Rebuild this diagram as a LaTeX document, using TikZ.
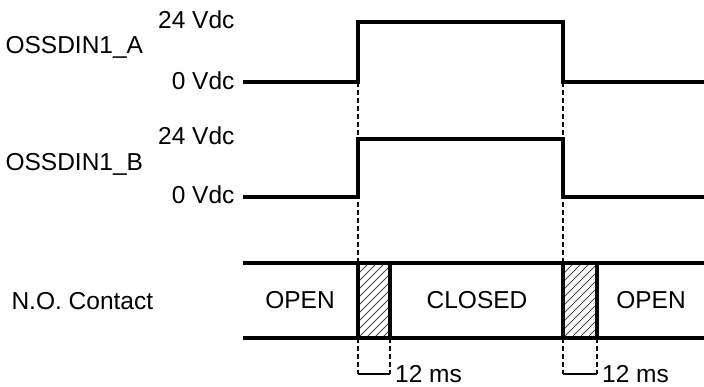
\documentclass[tikz,border=0pt]{standalone}
\usepackage{fontspec}
\setmainfont{Liberation Sans}
\usepackage{tikz}
\usetikzlibrary{calc,positioning}

\begin{document}
\begin{tikzpicture}[x = {(1pt,0pt)},
                    y = {(0pt,-1pt)},
                    color = {black},
                    font = \fontsize{24.5}{28}\selectfont]
% styles
\tikzset{sigline/.style={draw=black,line width=4pt,line join=miter},
         guide/.style={draw=black,dashed,line width=1.2pt,dash pattern=on 5pt off 3pt},
         hatchline/.style={draw=black!70,line width=0.8pt}}
\useasboundingbox (0,0) rectangle (704,386);
% coordinates
%edges
\coordinate (T1) at (358,0);
\coordinate (T2) at (390,0);
\coordinate (T3) at (563,0);
\coordinate (T4) at (597,0);
%levels
\coordinate (AH) at (0,22);
\coordinate (AL) at (0,82);
\coordinate (BH) at (0,139);
\coordinate (BL) at (0,197);
\coordinate (CT) at (0,263);
\coordinate (CB) at (0,338);
\coordinate (DM) at (0,374);

%labels
\node[anchor=west] (nameA) at (2,47) {OSSDIN1\_A};
\node[anchor=west] (nameB) at (2,164) {OSSDIN1\_B};
\node[anchor=west] (nameC) at (8,301) {N.O. Contact};
\node[anchor=east] (highA) at (238,20) {24 Vdc};
\node[anchor=east] (lowA) at (238,81) {0 Vdc};
\node[anchor=east] (highB) at (238,136) {24 Vdc};
\node[anchor=east] (lowB) at (238,195) {0 Vdc};

%guides
\draw[guide] (T1 |- AL) -- (T1 |- DM);
\draw[guide] (T3 |- AL) -- (T3 |- DM);
\draw[guide] (T2 |- CB) -- (T2 |- DM);
\draw[guide] (T4 |- CB) -- (T4 |- DM);
\draw[black,line width=1.5pt] (T1 |- DM) -- (T2 |- DM);
\draw[black,line width=1.5pt] (T3 |- DM) -- (T4 |- DM);
\node[anchor=base west,inner sep=0pt] (gapA) at ($(T2 |- DM)+(5,8)$) {12 ms};
\node[anchor=base west,inner sep=0pt] (gapB) at ($(T4 |- DM)+(5,8)$) {12 ms};

%hatch
\begin{scope}
\clip (T1 |- CT) rectangle (T2 |- CB);
\foreach \k in {-80,-72,...,40}
  \draw[hatchline] (358+\k,338) -- (358+\k+75,263);
\end{scope}
\begin{scope}
\clip (T3 |- CT) rectangle (T4 |- CB);
\foreach \k in {-80,-72,...,40}
  \draw[hatchline] (563+\k,338) -- (563+\k+75,263);
\end{scope}

%signals
\draw[sigline] (243,82) -- (T1 |- AL) -- (T1 |- AH) -- (T3 |- AH) -- (T3 |- AL) -- (704,82);
\draw[sigline] (243,197) -- (T1 |- BL) -- (T1 |- BH) -- (T3 |- BH) -- (T3 |- BL) -- (704,197);

%contact
\draw[sigline] (243,263) -- (704,263);
\draw[sigline] (243,338) -- (704,338);
\draw[sigline] (T1 |- CT) -- (T1 |- CB);
\draw[sigline] (T2 |- CT) -- (T2 |- CB);
\draw[sigline] (T3 |- CT) -- (T3 |- CB);
\draw[sigline] (T4 |- CT) -- (T4 |- CB);
\node (open1) at (300,300) {OPEN};
\node (closed) at (477,300) {CLOSED};
\node (open2) at (651,300) {OPEN};
\end{tikzpicture}
\end{document}
